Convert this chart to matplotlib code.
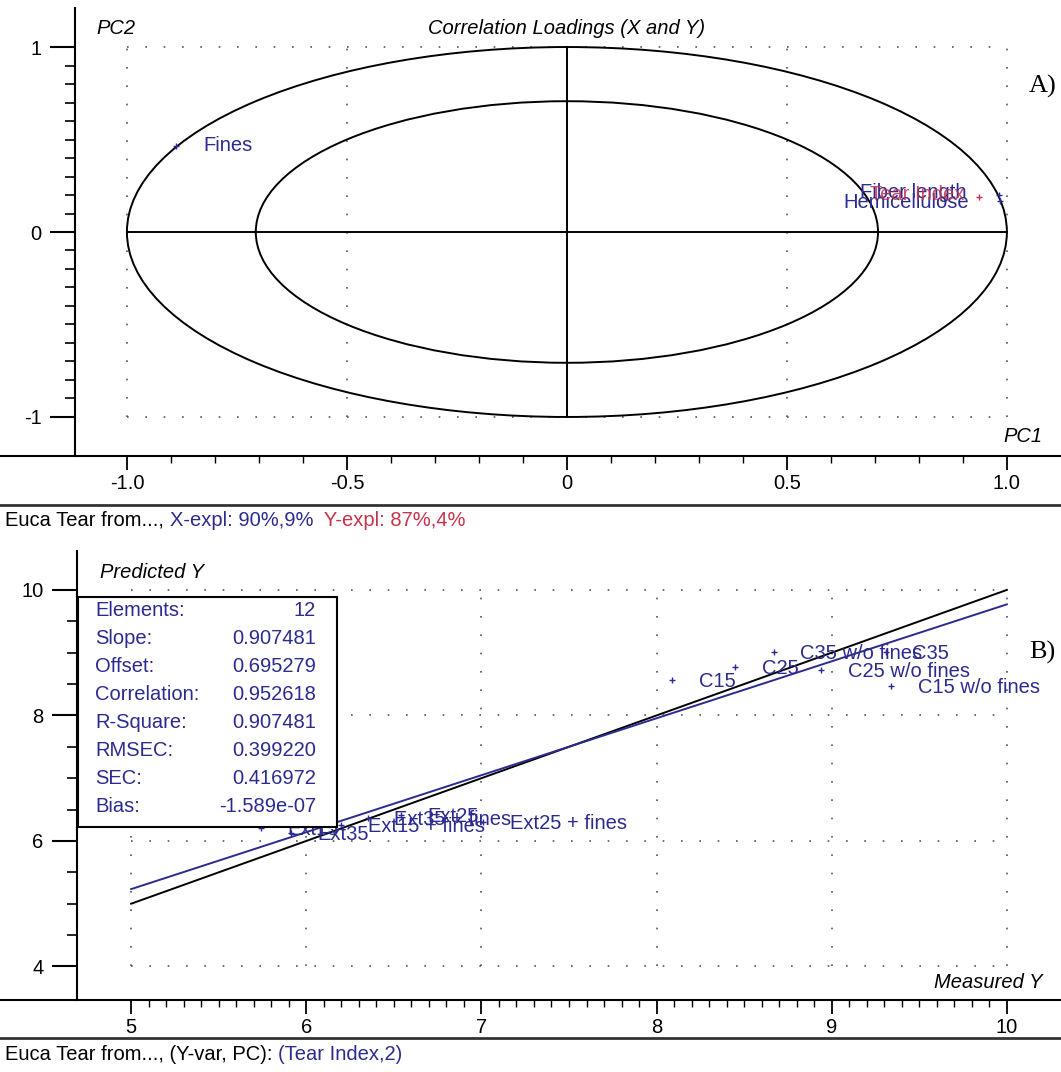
import matplotlib
matplotlib.use("Agg")
import matplotlib.pyplot as plt
import numpy as np
from matplotlib.lines import Line2D
from matplotlib.patches import Ellipse, Rectangle
from matplotlib.ticker import FixedLocator

plt.rcParams['font.family'] = ['Liberation Sans', 'DejaVu Sans']

# ---------------- data: correlation loadings ----------------
x_var_names = ["Fines", "Hemicellulose", "Fiber length"]
x_var_pc1 = [-0.889, 0.984, 0.983]
x_var_pc2 = [0.465, 0.165, 0.200]
y_var_names = ["Tear Index"]
y_var_pc1 = [0.936]
y_var_pc2 = [0.190]
ellipse_radii = [1.0, 0.7071]
pc1_ticks = [-1.0, -0.5, 0.0, 0.5, 1.0]
pc1_tick_labels = ["-1.0", "-0.5", "0", "0.5", "1.0"]
pc2_ticks = [-1, 0, 1]
pc2_tick_labels = ["-1", "0", "1"]
footer1_parts = ["Euca Tear from..., ", "X-expl: 90%,9%", "  Y-expl: 87%,4%"]

# ---------------- data: predicted vs measured ----------------
sample_names = ["C15", "C25", "C35 w/o fines", "C25 w/o fines", "C35", "C15 w/o fines",
                "Ext15", "Ext35", "Ext15 + fines", "Ext35 + fines", "Ext25", "Ext25 + fines"]
measured = [8.09, 8.45, 8.67, 8.94, 9.31, 9.34, 5.74, 5.91, 6.20, 6.35, 6.54, 7.01]
predicted = [8.57, 8.77, 9.01, 8.73, 9.01, 8.47, 6.21, 6.13, 6.25, 6.37, 6.41, 6.30]
stat_names = ["Elements:", "Slope:", "Offset:", "Correlation:", "R-Square:",
              "RMSEC:", "SEC:", "Bias:"]
stat_values = ["12", "0.907481", "0.695279", "0.952618", "0.907481",
               "0.399220", "0.416972", "-1.589e-07"]
slope = 0.907481
offset = 0.695279
meas_ticks = [5, 6, 7, 8, 9, 10]
pred_ticks = [4, 6, 8, 10]
footer2_parts = ["Euca Tear from..., (Y-var, PC): ", "(Tear Index,2)"]

# ---------------- styles ----------------
NAVY = '#2b2b8f'
RED = '#c8324a'
W, H = 1061, 1072
FS = 14.5

def fx(px):
    return px / W

def fy(py):
    return 1 - py / H

fig = plt.figure(figsize=(W / 100, H / 100), dpi=100)
fig.patch.set_facecolor('white')

dot_style = dict(color='#555555', lw=1.2, linestyle=(0, (1, 10)))


def style_axes(ax):
    for s in ['top', 'right', 'bottom']:
        ax.spines[s].set_visible(False)
    ax.spines['left'].set_linewidth(1.5)
    ax.tick_params(axis='y', which='major', direction='out', length=18, width=1.5,
                   labelsize=FS, pad=6)
    ax.tick_params(axis='y', which='minor', direction='out', length=7, width=1.2)
    ax.tick_params(axis='x', which='major', direction='out', length=10, width=1.3,
                   labelsize=FS, pad=3)
    ax.tick_params(axis='x', which='minor', direction='out', length=5, width=1.0)
    ax.set_facecolor('white')


# ================= top panel =================
ax1 = fig.add_axes([fx(75), fy(456), fx(1061) - fx(75), (456 - 8) / H])
ax1.set_xlim(-1.118, 1.123)
ax1.set_ylim(-1.211, 1.211)
style_axes(ax1)
ax1.xaxis.set_major_locator(FixedLocator(pc1_ticks))
ax1.set_xticklabels(pc1_tick_labels)
ax1.xaxis.set_minor_locator(FixedLocator(np.arange(-1.0, 1.001, 0.1)))
ax1.yaxis.set_major_locator(FixedLocator(pc2_ticks))
ax1.set_yticklabels(pc2_tick_labels)
ax1.yaxis.set_minor_locator(FixedLocator(np.arange(-1.0, 1.001, 0.1)))

# dotted grid box
lo, hi = pc1_ticks[0], pc1_ticks[-1]
for xv in pc1_ticks:
    if xv != 0:
        ax1.plot([xv, xv], [pc2_ticks[0], pc2_ticks[-1]], **dot_style, zorder=1)
for yv in pc2_ticks:
    if yv != 0:
        ax1.plot([lo, hi], [yv, yv], **dot_style, zorder=1)
# cross lines
ax1.plot([lo, hi], [0, 0], color='black', lw=1.4, zorder=2)
ax1.plot([0, 0], [pc2_ticks[0], pc2_ticks[-1]], color='black', lw=1.4, zorder=2)
# ellipses
for r in ellipse_radii:
    ax1.add_patch(Ellipse((0, 0), 2 * r, 2 * r, fill=False, ec='black', lw=1.4, zorder=2))

ax1.plot(x_var_pc1, x_var_pc2, linestyle='none', marker='+', ms=5, mew=1.0, color=NAVY, zorder=4)
ax1.plot(y_var_pc1, y_var_pc2, linestyle='none', marker='+', ms=5, mew=1.0, color=RED, zorder=4)

load_label_style = {"Fines": (20, 0, 'left'), "Hemicellulose": (-22, -1, 'right'),
                    "Fiber length": (-24, 2, 'right'), "Tear Index": (-10, 2, 'right')}
for n, xv, yv in zip(x_var_names, x_var_pc1, x_var_pc2):
    dx, dy, ha = load_label_style[n]
    ax1.annotate(n, (xv, yv), xytext=(dx, dy), textcoords='offset points', ha=ha,
                 va='center', fontsize=FS, color=NAVY, zorder=5)
for n, xv, yv in zip(y_var_names, y_var_pc1, y_var_pc2):
    dx, dy, ha = load_label_style[n]
    ax1.annotate(n, (xv, yv), xytext=(dx, dy), textcoords='offset points', ha=ha,
                 va='center', fontsize=FS, color=RED, alpha=0.85, zorder=5)

fig.text(fx(96), fy(28), "PC2", fontsize=FS, style='italic', va='center', ha='left')
fig.text(fx(567), fy(28), "Correlation Loadings (X and Y)", fontsize=FS, style='italic',
         va='center', ha='center')
fig.text(fx(1042), fy(437), "PC1", fontsize=FS, style='italic', va='center', ha='right')
fig.text(fx(1029), fy(86), "A)", fontsize=19, family=['Liberation Serif', 'DejaVu Serif'],
         va='center', ha='left')

# full width axis line + separator
fig.add_artist(Line2D([0, 1], [fy(456), fy(456)], color='black', lw=1.5))
fig.add_artist(Line2D([0, 1], [fy(505), fy(505)], color='#333333', lw=2.0))

t = fig.text(fx(5), fy(520), footer1_parts[0], fontsize=FS, va='center', ha='left', color='black')
t = fig.add_artist(matplotlib.text.Annotation(footer1_parts[1], xy=(1, 0), xycoords=t,
                                              va='bottom', ha='left', fontsize=FS, color=NAVY))
t = fig.add_artist(matplotlib.text.Annotation(footer1_parts[2], xy=(1, 0), xycoords=t,
                                              va='bottom', ha='left', fontsize=FS, color=RED))

# ================= bottom panel =================
ax2 = fig.add_axes([fx(77), fy(1000), fx(1061) - fx(77), (1000 - 551) / H])
ax2.set_xlim(4.691, 10.309)
ax2.set_ylim(3.466, 10.62)
style_axes(ax2)
ax2.xaxis.set_major_locator(FixedLocator(meas_ticks))
ax2.set_xticklabels([str(v) for v in meas_ticks])
ax2.xaxis.set_minor_locator(FixedLocator(np.arange(5, 10.001, 0.1)))
ax2.yaxis.set_major_locator(FixedLocator(pred_ticks))
ax2.set_yticklabels([str(v) for v in pred_ticks])
ax2.yaxis.set_minor_locator(FixedLocator(np.arange(4, 10.001, 0.5)))

for xv in meas_ticks:
    ax2.plot([xv, xv], [pred_ticks[0], pred_ticks[-1]], **dot_style, zorder=1)
for yv in pred_ticks:
    ax2.plot([meas_ticks[0], meas_ticks[-1]], [yv, yv], **dot_style, zorder=1)

xl = np.array([meas_ticks[0], meas_ticks[-1]], dtype=float)
ax2.plot(xl, xl, color='black', lw=1.4, zorder=2)
ax2.plot(xl, slope * xl + offset, color=NAVY, lw=1.4, zorder=2)

ax2.plot(measured, predicted, linestyle='none', marker='+', ms=5, mew=1.0, color=NAVY, zorder=4)
for n, xv, yv in zip(sample_names, measured, predicted):
    ax2.annotate(n, (xv, yv), xytext=(19, -1), textcoords='offset points', ha='left',
                 va='center', fontsize=FS, color=NAVY, zorder=4)

# statistics box
box = Rectangle((fx(78), fy(827)), fx(337) - fx(78), (827 - 597) / H, transform=fig.transFigure,
                facecolor='white', edgecolor='black', lw=1.5, zorder=6, clip_on=False)
ax2.add_patch(box)
for i, (n, v) in enumerate(zip(stat_names, stat_values)):
    yy = fy(610 + i * 28.1)
    ax2.text(fx(95), yy, n, transform=fig.transFigure, fontsize=FS, color=NAVY,
             va='center', ha='left', zorder=7)
    ax2.text(fx(316), yy, v, transform=fig.transFigure, fontsize=FS, color=NAVY,
             va='center', ha='right', zorder=7)

fig.text(fx(100), fy(573), "Predicted Y", fontsize=FS, style='italic', va='center', ha='left')
fig.text(fx(1042), fy(982), "Measured Y", fontsize=FS, style='italic', va='center', ha='right')
fig.text(fx(1029), fy(652), "B)", fontsize=19, family=['Liberation Serif', 'DejaVu Serif'],
         va='center', ha='left')

fig.add_artist(Line2D([0, 1], [fy(1000), fy(1000)], color='black', lw=1.5))
fig.add_artist(Line2D([0, 1], [fy(1038), fy(1038)], color='#333333', lw=2.0))

t = fig.text(fx(5), fy(1055), footer2_parts[0], fontsize=FS, va='center', ha='left', color='black')
fig.add_artist(matplotlib.text.Annotation(footer2_parts[1], xy=(1, 0), xycoords=t,
                                          va='bottom', ha='left', fontsize=FS, color=NAVY))

fig.savefig("out.png", dpi=100, facecolor='white')
